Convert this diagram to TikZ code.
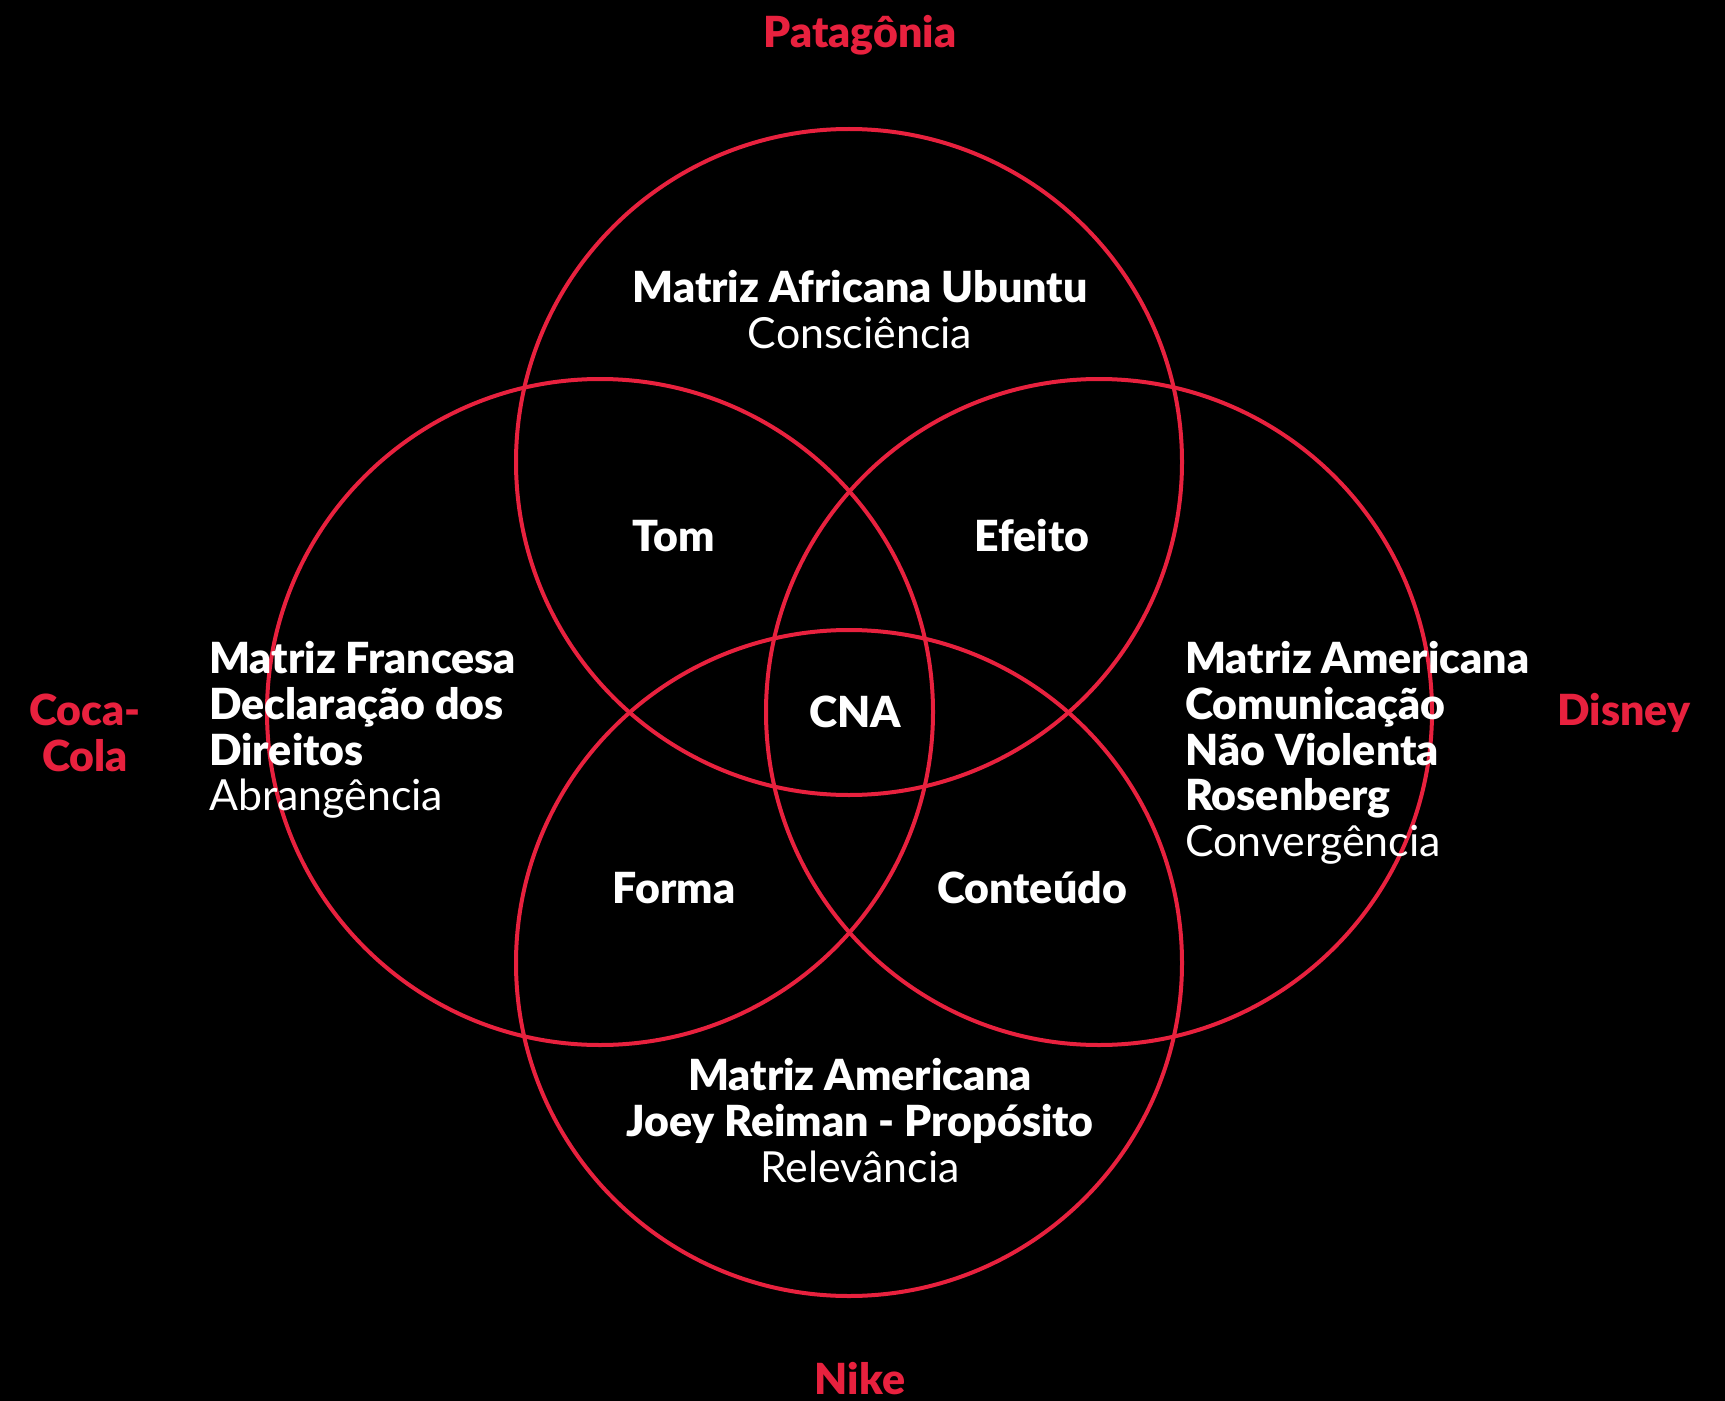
\documentclass[tikz,border=0pt]{standalone}
\usepackage{fontspec}
\setmainfont{Lato}[BoldFont={Lato Black}]

\begin{document}
\begin{tikzpicture}[
    x=1bp, y=-1bp,
    every node/.style={inner sep=0pt, text=white, font=\fontsize{43}{46}\selectfont},
    ring/.style={draw=vennRed, line width=4bp},
    brand/.style={text=vennRed, font=\fontsize{43}{46}\selectfont\bfseries},
    zone/.style={font=\fontsize{43}{46}\selectfont\bfseries},
]

\definecolor{vennRed}{RGB}{232,33,62}

\def\R{333}  % ring radius (px)

% Background
\fill[black] (0,0) rectangle (1725,1401);

% ============================================================
% RINGS
% ============================================================
\coordinate (cTop)    at (849,462);
\coordinate (cLeft)   at (600,712);
\coordinate (cRight)  at (1099,712);
\coordinate (cBottom) at (849,963);

\foreach \c in {cTop,cLeft,cRight,cBottom} {
    \draw[ring] (\c) circle (\R);
}

% ============================================================
% BRAND LABELS
% ============================================================
\node[brand, anchor=base] (patagonia) at (860,48) {Patagônia};
\node[brand, anchor=base] (nike) at (860,1394) {Nike};
\node[brand, anchor=base] (disney) at (1624,725) {Disney};
\node[brand, anchor=north, align=center] (cocacola) at (85,694) {Coca-\\Cola};

% ============================================================
% MATRIX TEXTS
% ============================================================
\node[anchor=north, align=center] (ubuntu) at (860,270)
    {{\bfseries Matriz Africana Ubuntu}\\Consciência};
\node[anchor=north west, align=left] (francesa) at (209,641)
    {{\bfseries Matriz Francesa}\\{\bfseries Declaração dos}\\{\bfseries Direitos}\\Abrangência};
\node[anchor=north west, align=left] (rosenberg) at (1185,641)
    {{\bfseries Matriz Americana}\\{\bfseries Comunicação}\\{\bfseries Não Violenta}\\{\bfseries Rosenberg}\\Convergência};
\node[anchor=north, align=center] (reiman) at (860,1058)
    {{\bfseries Matriz Americana}\\{\bfseries Joey Reiman - Propósito}\\Relevância};

% ============================================================
% OVERLAPS
% ============================================================
\node[zone, anchor=base] (tom) at (674,551) {Tom};
\node[zone, anchor=base] (efeito) at (1032,551) {Efeito};
\node[zone, anchor=base] (forma) at (674,903) {Forma};
\node[zone, anchor=base] (conteudo) at (1032,903) {Conteúdo};
\node[zone, anchor=base] (cna) at (855,727) {CNA};

\end{tikzpicture}
\end{document}
